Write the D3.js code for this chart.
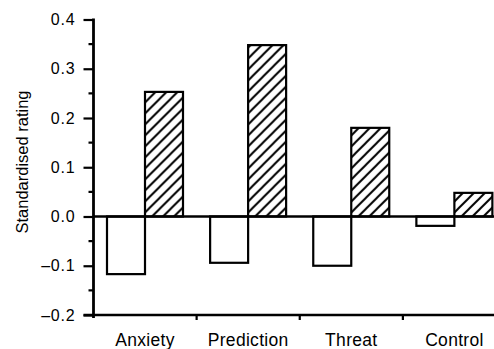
<!DOCTYPE html>
<html>
<head>
<meta charset="utf-8">
<script src="https://cdnjs.cloudflare.com/ajax/libs/d3/7.8.4/d3.min.js"></script>
<style>
  body { margin: 0; background: #fff; }
  text { font-family: "Liberation Sans", Arial, sans-serif; fill: #000; }
</style>
</head>
<body>
<div id="chart"></div>
<script>
// valeurs
const categories = ["Anxiety", "Prediction", "Threat", "Control"];
const series = ["open", "hatched"];
const openValues = [-0.117, -0.094, -0.1, -0.019];
const hatchedValues = [0.253, 0.348, 0.18, 0.048];
const yMajorTicks = [-0.2, -0.1, 0.0, 0.1, 0.2, 0.3, 0.4];
const yMinorTicks = [-0.15, -0.05, 0.05, 0.15, 0.25, 0.35];

const data = categories.map((c, i) => ({
  cat: c,
  open: openValues[i],
  hatched: hatchedValues[i],
}));

const width = 494, height = 349;
const left = 93.5, plotRight = 506;

const svg = d3
  .select("#chart")
  .append("svg")
  .attr("width", width)
  .attr("height", height);

// motif hachuré
svg
  .append("defs")
  .append("pattern")
  .attr("id", "hatch")
  .attr("patternUnits", "userSpaceOnUse")
  .attr("width", 11)
  .attr("height", 11)
  .append("path")
  .attr("d", "M-2,2 L2,-2 M0,11 L11,0 M9,13 L13,9")
  .attr("stroke", "#000")
  .attr("stroke-width", 2);

// Echelles
const x0 = d3.scaleBand().domain(categories).range([left, plotRight]);
const x1 = d3.scaleBand().domain(series).range([13.5, 89.5]);
const y = d3.scaleLinear().domain([-0.2, 0.4]).range([315, 19.5]);

// Barres
const groups = svg
  .append("g")
  .selectAll("g")
  .data(data)
  .join("g")
  .attr("transform", (d) => `translate(${x0(d.cat)},0)`);

groups
  .selectAll("rect")
  .data((d) => series.map((s) => ({ s, v: d[s] })))
  .join("rect")
  .attr("x", (d) => x1(d.s))
  .attr("width", x1.bandwidth())
  .attr("y", (d) => y(Math.max(0, d.v)))
  .attr("height", (d) => Math.abs(y(d.v) - y(0)))
  .attr("fill", (d) => (d.s === "hatched" ? "url(#hatch)" : "#fff"))
  .attr("stroke", "#000")
  .attr("stroke-width", 2.2);

// ligne du zéro
svg
  .append("line")
  .attr("x1", left)
  .attr("x2", width)
  .attr("y1", y(0))
  .attr("y2", y(0))
  .attr("stroke", "#000")
  .attr("stroke-width", 2.4);

// Axe Y
const yAxis = svg.append("g").attr("transform", `translate(${left},0)`);
yAxis
  .call(
    d3
      .axisLeft(y)
      .tickValues(yMajorTicks)
      .tickSize(10)
      .tickPadding(8)
      .tickFormat((d) => d3.format(".1f")(d).replace("−", "–"))
  )
  .call((g) => g.select(".domain").remove());
yAxis.selectAll("line").attr("stroke-width", 2.2);
yAxis
  .selectAll("text")
  .attr("font-size", 16)
  .attr("letter-spacing", 0.8)
  .attr("font-family", "Liberation Sans, Arial, sans-serif");

yAxis
  .selectAll(".minor")
  .data(yMinorTicks)
  .join("line")
  .attr("class", "minor")
  .attr("x1", -5)
  .attr("x2", 0)
  .attr("y1", (d) => y(d))
  .attr("y2", (d) => y(d))
  .attr("stroke", "#000")
  .attr("stroke-width", 2.2);

yAxis
  .append("line")
  .attr("x1", 0)
  .attr("x2", 0)
  .attr("y1", y(0.4) - 1)
  .attr("y2", y(-0.2) + 3)
  .attr("stroke", "#000")
  .attr("stroke-width", 2.8);

// Axe X
const xAxis = svg.append("g").attr("transform", `translate(0,${y(-0.2)})`);
xAxis
  .append("line")
  .attr("x1", left - 10)
  .attr("x2", width)
  .attr("stroke", "#000")
  .attr("stroke-width", 2.6);

xAxis
  .selectAll(".tick")
  .data(categories.slice(1))
  .join("line")
  .attr("class", "tick")
  .attr("x1", (d) => x0(d))
  .attr("x2", (d) => x0(d))
  .attr("y1", 0)
  .attr("y2", 5)
  .attr("stroke", "#000")
  .attr("stroke-width", 2.2);

xAxis
  .selectAll(".lab")
  .data(categories)
  .join("text")
  .attr("class", "lab")
  .attr("x", (d) => x0(d) + x0.bandwidth() / 2)
  .attr("y", 31)
  .attr("text-anchor", "middle")
  .attr("font-size", 17.5)
  .attr("letter-spacing", 0.3)
  .text((d) => d);

// Titre de l'axe Y
svg
  .append("text")
  .attr("transform", "translate(27.5,162) rotate(-90)")
  .attr("text-anchor", "middle")
  .attr("font-size", 16.5)
  .text("Standardised rating");
</script>
</body>
</html>
